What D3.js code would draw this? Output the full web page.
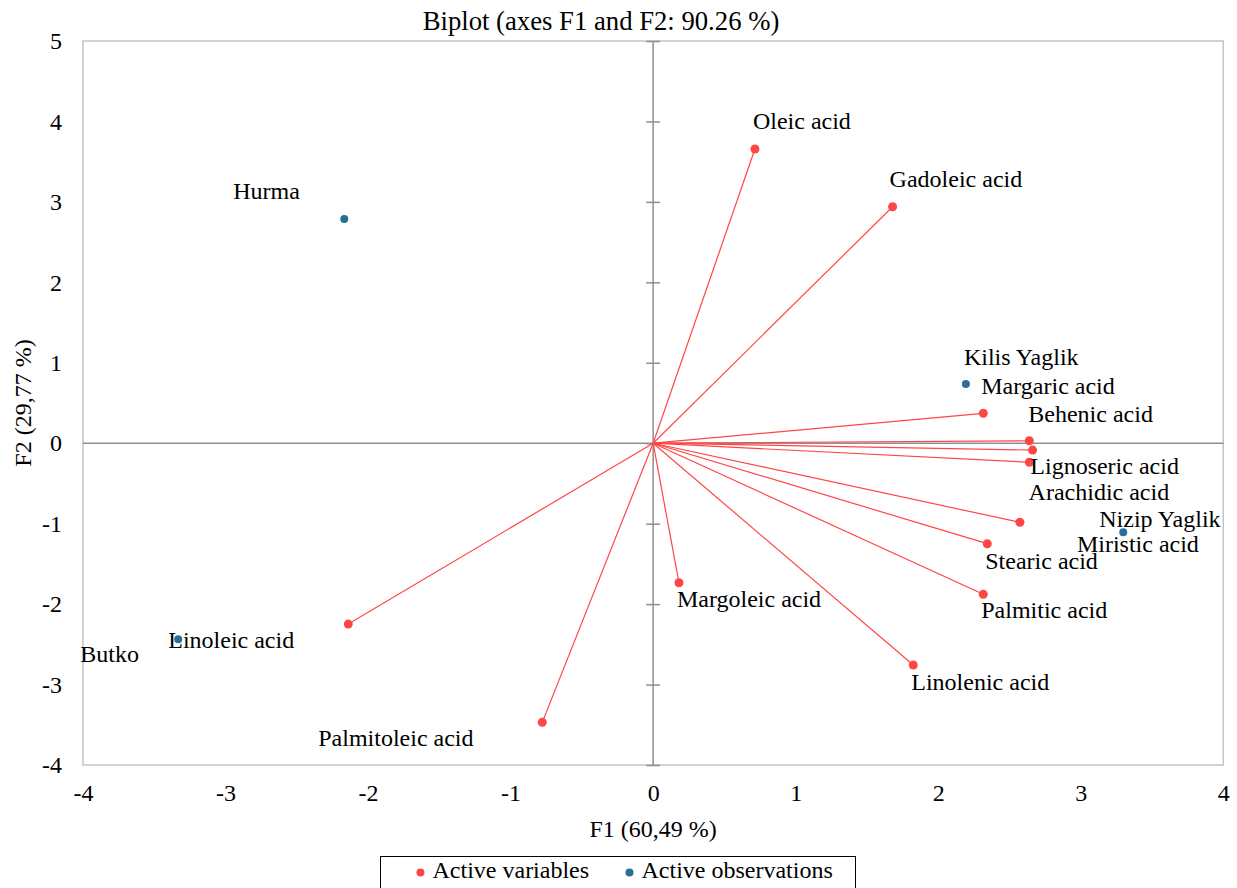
<!DOCTYPE html>
<html>
<head>
<meta charset="utf-8">
<script src="https://cdn.jsdelivr.net/npm/d3@7"></script>
<style>
  body { margin: 0; background: #fff; }
  svg text { font-family: "Liberation Serif", "Times New Roman", serif; fill: #000; }
</style>
</head>
<body>
<div id="drawing"></div>
<script>
"use strict"

/**** DATA ****/
let varNames = ["Oleic acid", "Gadoleic acid", "Margaric acid", "Behenic acid", "Arachidic acid",
  "Lignoseric acid", "Miristic acid", "Stearic acid", "Palmitic acid", "Linolenic acid",
  "Margoleic acid", "Linoleic acid", "Palmitoleic acid"]
let varF1 = [0.714, 1.680, 2.316, 2.639, 2.662, 2.639, 2.573, 2.344, 2.316, 1.825, 0.181, -2.139, -0.778]
let varF2 = [3.657, 2.940, 0.372, 0.031, -0.085, -0.237, -0.983, -1.249, -1.878, -2.757, -1.734, -2.248, -3.470]

let obsNames = ["Hurma", "Kilis Yaglik", "Nizip Yaglik", "Butko"]
let obsF1 = [-2.167, 2.194, 3.298, -3.332]
let obsF2 = [2.787, 0.736, -1.108, -2.438]

let xTicks = [-4, -3, -2, -1, 0, 1, 2, 3, 4]
let yTicks = [-4, -3, -2, -1, 0, 1, 2, 3, 4, 5]

/**** LAYOUT ****/
let svgWidth = 1237
let svgHeight = 888
let plotLeft = 83
let plotRight = 1223.3
let plotTop = 41
let plotBottom = 765

let redColor = "#ff4646"
let blueColor = "#2a6f98"
let fontSize = 24

// label offsets (px) from each point to label start / baseline
let varLabelDx = [-2, -3, -2, -1, -4, 1, 57, -2, -2, -2, -2, -180, -224]
let varLabelDy = [-20, -20, -19, -19, 50, 12, 30, 25, 24, 25, 24, 24, 24]
let obsLabelDx = [-111, -2, -24, -98]
let obsLabelDy = [-20, -19, -5, 23]

let svg = d3.select("#drawing")
  .append("svg")
  .attr("width", svgWidth)
  .attr("height", svgHeight)
  .attr("font-family", "Liberation Serif, serif")

/**** SCALES ****/
let xScale = d3.scaleLinear()
  .domain([-4, 4])
  .range([plotLeft, plotRight])

let yScale = d3.scaleLinear()
  .domain([-4, 5])
  .range([plotBottom, plotTop])

/* frame */
svg.append("rect")
  .attr("x", plotLeft)
  .attr("y", plotTop)
  .attr("width", plotRight - plotLeft)
  .attr("height", plotBottom - plotTop)
  .attr("fill", "none")
  .attr("stroke", "#c4c4c4")
  .attr("stroke-width", 1.5)

/* zero lines */
svg.append("line")
  .attr("x1", xScale(-4)).attr("x2", xScale(4))
  .attr("y1", yScale(0)).attr("y2", yScale(0))
  .attr("stroke", "#8f8f8f").attr("stroke-width", 1.5)

svg.append("line")
  .attr("x1", xScale(0)).attr("x2", xScale(0))
  .attr("y1", yScale(-4)).attr("y2", yScale(5))
  .attr("stroke", "#8f8f8f").attr("stroke-width", 1.5)

/* crossing ticks on the vertical zero line */
function tickAxis(axisFn) {
  let g = svg.append("g")
    .attr("transform", `translate(${xScale(0)},0)`)
    .call(axisFn(yScale).tickValues(yTicks).tickSize(7).tickFormat(""))
  g.select(".domain").remove()
  g.selectAll(".tick line").attr("stroke", "#8f8f8f").attr("stroke-width", 1.5)
}
tickAxis(d3.axisLeft)
tickAxis(d3.axisRight)

/* tick labels (plain hyphen minus like the original) */
let plainFormat = d => String(d)

let xAxis = svg.append("g")
  .attr("transform", `translate(0,${plotBottom})`)
  .call(d3.axisBottom(xScale).tickValues(xTicks).tickSize(0).tickPadding(19).tickFormat(plainFormat))
xAxis.select(".domain").remove()
xAxis.attr("font-family", null)
xAxis.selectAll("text").style("font-size", fontSize + "px").attr("fill", "#000")

let yAxis = svg.append("g")
  .attr("transform", `translate(${plotLeft},0)`)
  .call(d3.axisLeft(yScale).tickValues(yTicks).tickSize(0).tickPadding(21).tickFormat(plainFormat))
yAxis.select(".domain").remove()
yAxis.attr("font-family", null)
yAxis.selectAll("text").style("font-size", fontSize + "px").attr("fill", "#000")

/**** VECTORS ****/
let vars = varNames.map((n, i) => ({name: n, f1: varF1[i], f2: varF2[i], dx: varLabelDx[i], dy: varLabelDy[i]}))
let obs = obsNames.map((n, i) => ({name: n, f1: obsF1[i], f2: obsF2[i], dx: obsLabelDx[i], dy: obsLabelDy[i]}))

svg.selectAll("line.vector")
  .data(vars)
  .join("line")
  .attr("class", "vector")
  .attr("x1", xScale(0))
  .attr("y1", yScale(0))
  .attr("x2", d => xScale(d.f1))
  .attr("y2", d => yScale(d.f2))
  .attr("stroke", redColor)
  .attr("stroke-width", 1.2)

svg.selectAll("circle.var")
  .data(vars)
  .join("circle")
  .attr("class", "var")
  .attr("cx", d => xScale(d.f1))
  .attr("cy", d => yScale(d.f2))
  .attr("r", 4.5)
  .attr("fill", redColor)

svg.selectAll("circle.obs")
  .data(obs)
  .join("circle")
  .attr("class", "obs")
  .attr("cx", d => xScale(d.f1))
  .attr("cy", d => yScale(d.f2))
  .attr("r", 4)
  .attr("fill", blueColor)

/* labels */
svg.selectAll("text.varLabel")
  .data(vars.concat(obs))
  .join("text")
  .attr("class", "varLabel")
  .attr("x", d => xScale(d.f1) + d.dx)
  .attr("y", d => yScale(d.f2) + d.dy)
  .style("font-size", fontSize + "px")
  .text(d => d.name)

/**** TITLES ****/
svg.append("text")
  .attr("x", 601)
  .attr("y", 30)
  .style("text-anchor", "middle")
  .style("font-size", "26.7px")
  .text("Biplot (axes F1 and F2: 90.26 %)")

svg.append("text")
  .attr("x", (plotLeft + plotRight) / 2)
  .attr("y", 836.5)
  .style("text-anchor", "middle")
  .style("font-size", fontSize + "px")
  .text("F1 (60,49 %)")

svg.append("text")
  .attr("transform", "rotate(-90)")
  .attr("x", -(plotTop + plotBottom) / 2)
  .attr("y", 31)
  .style("text-anchor", "middle")
  .style("font-size", fontSize + "px")
  .text("F2 (29,77 %)")

/**** LEGEND ****/
let legend = svg.append("g")
  .attr("transform", "translate(380.5,856.5)")

legend.append("rect")
  .attr("width", 475)
  .attr("height", 40)
  .attr("fill", "#fff")
  .attr("stroke", "#000")
  .attr("stroke-width", 1)

let legendItems = [
  {label: "Active variables", color: redColor, x: 40},
  {label: "Active observations", color: blueColor, x: 249}
]

legend.selectAll("circle")
  .data(legendItems)
  .join("circle")
  .attr("cx", d => d.x)
  .attr("cy", 16)
  .attr("r", 4)
  .attr("fill", d => d.color)

legend.selectAll("text")
  .data(legendItems)
  .join("text")
  .attr("x", d => d.x + 12)
  .attr("y", 21.5)
  .style("font-size", fontSize + "px")
  .text(d => d.label)
</script>
</body>
</html>
